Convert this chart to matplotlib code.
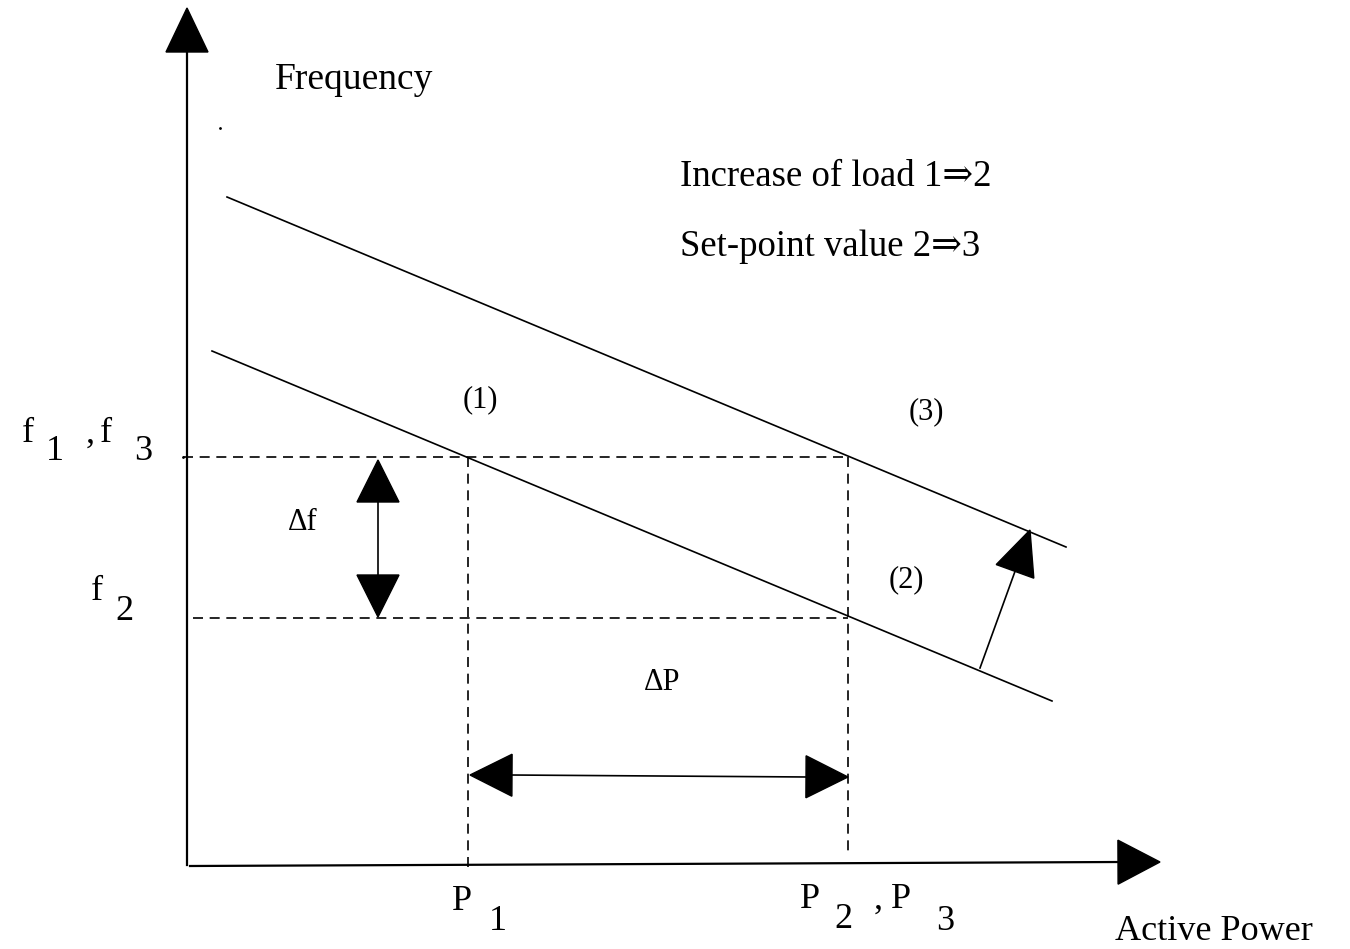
import matplotlib.pyplot as plt
from matplotlib.patches import Polygon
import numpy as np

plt.rcParams['font.family'] = ['Liberation Serif', 'DejaVu Serif']

# droop characteristics (pixel-space diagram coords, y grows downward)
line_lower = [(212, 351), (1052, 701)]
line_upper = [(227, 197), (1066, 547)]

# operating levels
f13_y, f2_y = 457, 618
p1_x, p23_x = 468, 848

# axes
y_axis = [(187, 865), (187, 8)]
x_axis = [(190, 866), (1160, 862)]

# double arrows and set-point arrow
df_arrow = [(378, 460), (378, 617)]
dp_arrow = [(470, 775), (848, 777)]
sp_arrow = [(980, 668), (1030, 530)]

labels_main = [
    ("Frequency", 275, 80, 27),
    ("Increase of load 1\u21d22", 680, 177, 26.5),
    ("Set-point value 2\u21d23", 680, 247, 26.5),
    ("Active Power", 1115, 931, 26),
]
labels_small = [
    ("(1)", 463, 400), ("(3)", 909, 412), ("(2)", 889, 580),
    ("\u0394f", 288, 522), ("\u0394P", 644, 682),
]
labels_sub = [
    ("f", 22, 434), ("1", 46, 451), (",", 86, 434), ("f", 100, 434), ("3", 134, 451),
    ("f", 91, 591), ("2", 115, 611),
    ("P", 452, 902), ("1", 489, 921),
    ("P", 800, 900), ("2", 834, 920), (",", 874, 900), ("P", 891, 900), ("3", 936, 921),
]
stray_dots = [(220, 128), (183, 457)]

fig = plt.figure(figsize=(13.5, 9.49), dpi=100)
ax = fig.add_axes([0, 0, 1, 1])
ax.set_xlim(0, 1350)
ax.set_ylim(949, 0)
ax.axis("off")


def head(tip, tail, length=42, width=42):
    tip = np.array(tip, float)
    d = tip - np.array(tail, float)
    d /= np.hypot(*d)
    n = np.array([-d[1], d[0]])
    base = tip - d * length
    pts = [tip, base + n * width / 2, base - n * width / 2]
    ax.add_patch(Polygon(pts, closed=True, color="black", zorder=3))


# axes with arrowheads
(x0, y0), (x1, y1) = y_axis
ax.plot([x0, x1], [y0, y1 + 40], color="black", lw=1.6)
head((x1, y1), (x0, y0), 44, 42)
(x0, y0), (x1, y1) = x_axis
ax.plot([x0, x1 - 40], [y0, y1], color="black", lw=1.6)
head((x1, y1), (x0, y0), 42, 44)

# characteristics
for ln in (line_lower, line_upper):
    xs, ys = zip(*ln)
    ax.plot(xs, ys, color="black", lw=1.2)

# dashed guides
dash = dict(color="black", lw=1.2, linestyle=(0, (6, 4)))
ax.plot([183, p23_x], [f13_y, f13_y], **dash)
ax.plot([193, p23_x], [f2_y, f2_y], **dash)
ax.plot([p1_x, p1_x], [f13_y, 870], **dash)
ax.plot([p23_x, p23_x], [f13_y, 855], **dash)

# delta f arrow
(x0, y0), (x1, y1) = df_arrow
ax.plot([x0, x1], [y0 + 40, y1 - 40], color="black", lw=1.2)
head((x0, y0), (x1, y1), 42, 42)
head((x1, y1), (x0, y0), 42, 42)

# delta P arrow
(x0, y0), (x1, y1) = dp_arrow
ax.plot([x0 + 40, x1 - 40], [y0, y1], color="black", lw=1.2)
head((x0, y0), (x1, y1), 42, 42)
head((x1, y1), (x0, y0), 42, 42)

# set-point shift arrow
(x0, y0), (x1, y1) = sp_arrow
d = np.array([x1 - x0, y1 - y0], float)
d /= np.hypot(*d)
ax.plot([x0, x1 - d[0] * 40], [y0, y1 - d[1] * 40], color="black", lw=1.2)
head((x1, y1), (x0, y0), 44, 40)

xs, ys = zip(*stray_dots)
ax.plot(xs, ys, "o", color="black", ms=1)

for txt, x, y, fs in labels_main:
    ax.text(x, y, txt, fontsize=fs, ha="left", va="center")
for txt, x, y in labels_small:
    ax.text(x, y, txt, fontsize=22, ha="left", va="center")
for txt, x, y in labels_sub:
    ax.text(x, y, txt, fontsize=26, ha="left", va="center")

fig.savefig("out.png", dpi=100, facecolor="white")
